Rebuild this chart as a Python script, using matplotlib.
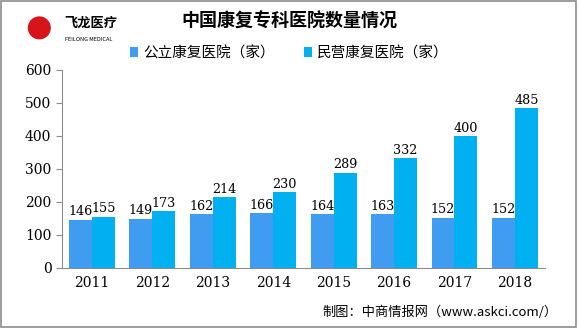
import numpy as np
import matplotlib.pyplot as plt
from matplotlib.patches import Ellipse, Rectangle

plt.rcParams['font.family'] = ['Noto Sans CJK SC', 'DejaVu Sans']

years = ['2011', '2012', '2013', '2014', '2015', '2016', '2017', '2018']
public = [146, 149, 162, 166, 164, 163, 152, 152]
private = [155, 173, 214, 230, 289, 332, 400, 485]

c_pub = '#3f9cf0'
c_pri = '#00b0f0'

fig = plt.figure(figsize=(5.78, 3.28), dpi=100)
fig.patch.set_facecolor('white')
fig.patches.append(Rectangle((0.002, 0.003), 0.995, 0.993, transform=fig.transFigure,
                             fill=False, edgecolor='#8c8c8c', lw=1.2))

ax = fig.add_axes([0.107, 0.183, 0.836, 0.604])
x = np.arange(len(years))
w = 0.38
b1 = ax.bar(x - w / 2, public, w, color=c_pub, label='公立康复医院（家）')
b2 = ax.bar(x + w / 2, private, w, color=c_pri, label='民营康复医院（家）')
for bars, vals in ((b1, public), (b2, private)):
    for r, v in zip(bars, vals):
        ax.text(r.get_x() + r.get_width() / 2, v + 4, str(v), ha='center', va='bottom',
                fontsize=9.2, family='DejaVu Serif')

ax.set_xlim(-0.5, len(years) - 0.5)
ax.set_ylim(0, 600)
ax.set_yticks(range(0, 601, 100))
ax.set_xticks(x)
ax.set_xticklabels(years)
for s in ('top', 'right'):
    ax.spines[s].set_visible(False)
for s in ('left', 'bottom'):
    ax.spines[s].set_color('#8c8c8c')
ax.tick_params(axis='y', length=4, color='#8c8c8c', labelsize=10)
ax.tick_params(axis='x', length=0, labelsize=10, pad=6)
for t in ax.get_xticklabels() + ax.get_yticklabels():
    t.set_family('DejaVu Serif')

fig.text(0.5, 0.935, '中国康复专科医院数量情况', ha='center', va='center',
         fontsize=13, fontweight='bold')
fig.legend(handles=[b1, b2], loc='center', bbox_to_anchor=(0.5, 0.838), ncol=2,
           frameon=False, fontsize=10.5, handlelength=0.6, handleheight=0.6,
           handletextpad=0.3, columnspacing=2.0)

# logo
fig.patches.append(Ellipse((0.068, 0.915), 0.066 * 328 / 578, 0.066, transform=fig.transFigure,
                           color='#d7141a'))
fig.text(0.112, 0.93, '飞龙医疗', fontsize=9.5, fontweight='bold', va='center')
fig.text(0.112, 0.88, 'FEILONG MEDICAL', fontsize=4, va='center')

fig.text(0.965, 0.048, '制图：中商情报网（www.askci.com/）', ha='right', va='center',
         fontsize=9.5)

fig.savefig('out.png', dpi=100)
